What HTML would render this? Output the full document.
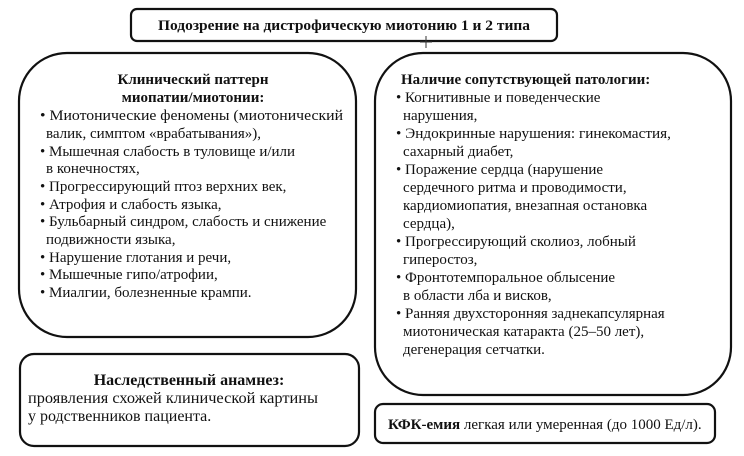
<!DOCTYPE html>
<html><head><meta charset="utf-8"><style>
html,body{margin:0;padding:0;background:#fff;}
svg{display:block}
svg text{font-family:"Liberation Serif",serif;font-size:15px;fill:#111;}
.b{font-weight:bold}
.l{font-size:16px}
</style></head><body>
<svg width="744" height="456" viewBox="0 0 744 456" xmlns="http://www.w3.org/2000/svg">
<g fill="none" stroke="#111" stroke-width="2.2">
<rect x="131" y="9" width="426" height="32" rx="6"/>
<rect x="19" y="53" width="337" height="284" rx="48"/>
<rect x="375" y="53" width="356" height="342" rx="48"/>
<rect x="20" y="354" width="339" height="92" rx="14"/>
<rect x="375" y="404" width="340" height="39" rx="8"/>
</g>
<path d="M426 36V48M420 42H432" stroke="#333" stroke-width="1"/>
<text class="b" x="344" y="30" text-anchor="middle" textLength="372" lengthAdjust="spacingAndGlyphs">Подозрение на дистрофическую миотонию 1 и 2 типа</text>

<text class="b" x="193" y="84" text-anchor="middle">Клинический паттерн</text>
<text class="b" x="193" y="102" text-anchor="middle">миопатии/миотонии:</text>
<text x="40" y="120" textLength="303" lengthAdjust="spacingAndGlyphs">• Миотонические феномены (миотонический</text>
<text x="46" y="138">валик, симптом «врабатывания»),</text>
<text x="40" y="156">• Мышечная слабость в туловище и/или</text>
<text x="46" y="173">в конечностях,</text>
<text x="40" y="191">• Прогрессирующий птоз верхних век,</text>
<text x="40" y="209">• Атрофия и слабость языка,</text>
<text x="40" y="226">• Бульбарный синдром, слабость и снижение</text>
<text x="46" y="244">подвижности языка,</text>
<text x="40" y="262">• Нарушение глотания и речи,</text>
<text x="40" y="279">• Мышечные гипо/атрофии,</text>
<text x="40" y="297">• Миалгии, болезненные крампи.</text>

<text class="b" x="401" y="84">Наличие сопутствующей патологии:</text>
<text x="396" y="102">• Когнитивные и поведенческие</text>
<text x="403" y="120">нарушения,</text>
<text x="396" y="138" textLength="275" lengthAdjust="spacingAndGlyphs">• Эндокринные нарушения: гинекомастия,</text>
<text x="403" y="156">сахарный диабет,</text>
<text x="396" y="174">• Поражение сердца (нарушение</text>
<text x="403" y="192">сердечного ритма и проводимости,</text>
<text x="403" y="210">кардиомиопатия, внезапная остановка</text>
<text x="403" y="228">сердца),</text>
<text x="396" y="246">• Прогрессирующий сколиоз, лобный</text>
<text x="403" y="264">гиперостоз,</text>
<text x="396" y="282">• Фронтотемпоральное облысение</text>
<text x="403" y="300">в области лба и висков,</text>
<text x="396" y="318">• Ранняя двухсторонняя заднекапсулярная</text>
<text x="403" y="336">миотоническая катаракта (25–50 лет),</text>
<text x="403" y="354">дегенерация сетчатки.</text>

<text class="b l" x="189" y="385" text-anchor="middle">Наследственный анамнез:</text>
<text class="l" x="28" y="403" textLength="290" lengthAdjust="spacingAndGlyphs">проявления схожей клинической картины</text>
<text class="l" x="28" y="421">у родственников пациента.</text>

<text x="388" y="429"><tspan class="b">КФК-емия</tspan> легкая или умеренная (до 1000 Ед/л).</text>
</svg>
</body></html>
